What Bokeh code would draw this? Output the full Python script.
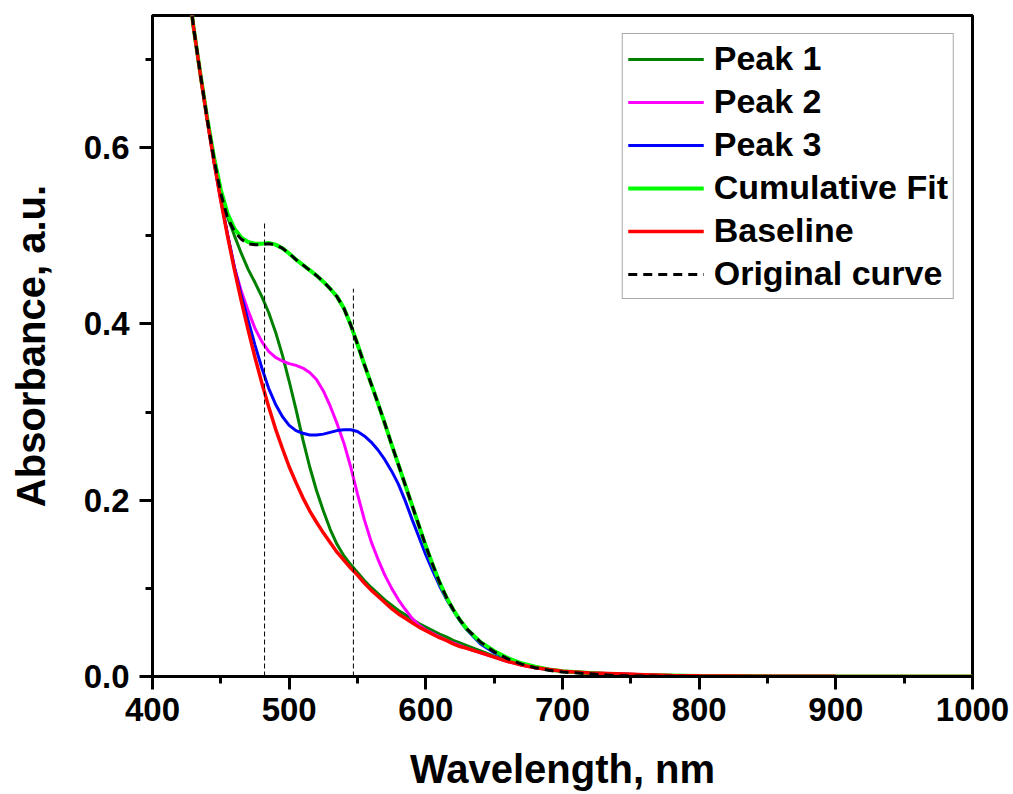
from bokeh.plotting import figure
from bokeh.models import (Range1d, SingleIntervalTicker, PrintfTickFormatter,
                          Legend, LegendItem, ColumnDataSource, LinearAxis,
                          FixedTicker)
from bokeh.embed import file_html
from bokeh.resources import INLINE

# ---------------- data ----------------
wavelength = [425, 430, 435, 440, 445, 450, 455, 460, 465, 470, 475, 480, 485, 490,
              495, 500, 505, 510, 515, 520, 525, 530, 535, 540, 545, 550, 555, 560,
              565, 570, 575, 580, 585, 590, 595, 600, 605, 610, 615, 620, 625, 630,
              640, 650, 660, 670, 680, 690, 700, 720, 740, 760, 780, 800, 850, 900,
              950, 1000]

baseline = [0.800, 0.737, 0.683, 0.632, 0.584, 0.540, 0.499, 0.461, 0.426, 0.393,
            0.362, 0.333, 0.306, 0.281, 0.259, 0.238, 0.220, 0.203, 0.188, 0.175,
            0.163, 0.152, 0.141, 0.132, 0.123, 0.115, 0.106, 0.098, 0.091, 0.084,
            0.077, 0.071, 0.066, 0.061, 0.056, 0.052, 0.048, 0.044, 0.041, 0.037,
            0.034, 0.032, 0.027, 0.022, 0.017, 0.013, 0.010, 0.008, 0.006, 0.004,
            0.003, 0.002, 0.001, 0.0008, 0.0004, 0.0002, 0.0001, 0.0]

cumulative_fit = [0.800, 0.737, 0.684, 0.634, 0.589, 0.552, 0.525, 0.508, 0.498, 0.493,
                  0.491, 0.491, 0.492, 0.490, 0.486, 0.480, 0.473, 0.467, 0.461, 0.455,
                  0.448, 0.440, 0.431, 0.418, 0.399, 0.377, 0.354, 0.332, 0.310, 0.287,
                  0.263, 0.240, 0.217, 0.194, 0.171, 0.148, 0.127, 0.107, 0.090, 0.076,
                  0.064, 0.054, 0.039, 0.029, 0.021, 0.015, 0.011, 0.008, 0.006, 0.004,
                  0.002, 0.001, 0.001, 0.0005, 0.0002, 0.0001, 0.0, 0.0]

original_curve = [0.800, 0.737, 0.684, 0.633, 0.587, 0.548, 0.520, 0.505, 0.496, 0.491,
                  0.490, 0.490, 0.491, 0.490, 0.486, 0.480, 0.473, 0.467, 0.461, 0.455,
                  0.448, 0.440, 0.431, 0.418, 0.399, 0.377, 0.354, 0.332, 0.310, 0.287,
                  0.263, 0.240, 0.217, 0.194, 0.171, 0.148, 0.127, 0.107, 0.090, 0.076,
                  0.064, 0.054, 0.039, 0.028, 0.020, 0.014, 0.010, 0.007, 0.005, 0.003,
                  0.001, 0.0005, 0.0002, 0.0, 0.0, 0.0, 0.0, 0.0]

peak_1 = [0.800, 0.737, 0.684, 0.633, 0.587, 0.545, 0.521, 0.500, 0.480, 0.462,
          0.447, 0.431, 0.413, 0.391, 0.365, 0.335, 0.303, 0.269, 0.238, 0.211,
          0.188, 0.167, 0.150, 0.137, 0.127, 0.118, 0.109, 0.101, 0.094, 0.087,
          0.081, 0.075, 0.070, 0.065, 0.060, 0.056, 0.052, 0.048, 0.045, 0.041,
          0.038, 0.035, 0.029, 0.023, 0.018, 0.014, 0.011, 0.008, 0.006, 0.004,
          0.003, 0.002, 0.001, 0.0008, 0.0004, 0.0002, 0.0001, 0.0]

peak_2 = [0.800, 0.737, 0.683, 0.632, 0.584, 0.541, 0.501, 0.464, 0.437, 0.415,
          0.395, 0.380, 0.369, 0.362, 0.358, 0.355, 0.353, 0.350, 0.345, 0.337,
          0.324, 0.307, 0.287, 0.265, 0.238, 0.207, 0.178, 0.153, 0.133, 0.115,
          0.100, 0.087, 0.076, 0.066, 0.058, 0.053, 0.049, 0.045, 0.041, 0.038,
          0.035, 0.032, 0.027, 0.022, 0.017, 0.013, 0.010, 0.008, 0.006, 0.004,
          0.003, 0.002, 0.001, 0.0008, 0.0004, 0.0002, 0.0001, 0.0]

peak_3 = [0.800, 0.737, 0.683, 0.632, 0.584, 0.541, 0.501, 0.464, 0.432, 0.404,
          0.376, 0.350, 0.327, 0.309, 0.295, 0.285, 0.279, 0.276, 0.274, 0.274,
          0.275, 0.277, 0.279, 0.280, 0.280, 0.278, 0.273, 0.266, 0.257, 0.246,
          0.233, 0.218, 0.199, 0.178, 0.158, 0.138, 0.120, 0.103, 0.088, 0.075,
          0.063, 0.053, 0.037, 0.027, 0.020, 0.014, 0.010, 0.008, 0.006, 0.004,
          0.002, 0.001, 0.001, 0.0005, 0.0002, 0.0001, 0.0, 0.0]

peak_marker_wavelength = [482, 547]
peak_marker_bottom = [0.0, 0.0]
peak_marker_top = [0.515, 0.44]

x_ticks_interval = 100
y_ticks_interval = 0.2

x_title = "Wavelength, nm"
y_title = "Absorbance, a.u."

# ---------------- figure ----------------
FONT = "Liberation Sans"

p = figure(width=1013, height=794, output_backend="svg", toolbar_location=None,
           x_range=Range1d(400, 1000), y_range=Range1d(0, 0.75),
           min_border_left=152, min_border_right=41, min_border_top=15,
           min_border_bottom=118)
p.grid.visible = False
p.background_fill_color = "white"
p.border_fill_color = "white"
p.outline_line_color = "black"
p.outline_line_width = 3
p.outline_line_alpha = 1.0

src = ColumnDataSource(dict(x=wavelength, base=baseline, cum=cumulative_fit,
                            orig=original_curve, p1=peak_1, p2=peak_2, p3=peak_3))

r_p1 = p.line("x", "p1", source=src, line_color="#008000", line_width=3)
r_p2 = p.line("x", "p2", source=src, line_color="#FF00FF", line_width=3)
r_p3 = p.line("x", "p3", source=src, line_color="#0000FF", line_width=3)
r_cum = p.line("x", "cum", source=src, line_color="#00FF00", line_width=4)
r_base = p.line("x", "base", source=src, line_color="#FF0000", line_width=3.5)
r_orig = p.line("x", "orig", source=src, line_color="black", line_width=3,
                line_dash="9 6")

p.segment(x0=peak_marker_wavelength, y0=peak_marker_bottom,
          x1=peak_marker_wavelength, y1=peak_marker_top,
          line_color="black", line_width=1, line_dash="5 3")

xaxis = p.xaxis[0]
yaxis = p.yaxis[0]

# axes
for ax in (xaxis, yaxis):
    ax.axis_line_width = 3
    ax.major_tick_line_width = 3
    ax.minor_tick_line_width = 3
    ax.major_tick_in = 0
    ax.major_tick_out = 13
    ax.minor_tick_in = 0
    ax.minor_tick_out = 7
    ax.major_label_text_font = FONT
    ax.major_label_text_font_style = "bold"
    ax.major_label_text_font_size = "33px"
    ax.major_label_text_color = "black"
    ax.axis_label_text_font = FONT
    ax.axis_label_text_font_style = "bold"
    ax.axis_label_text_font_size = "40px"
    ax.axis_label_text_color = "black"

xaxis.ticker = SingleIntervalTicker(interval=x_ticks_interval, num_minor_ticks=2)
yaxis.ticker = SingleIntervalTicker(interval=y_ticks_interval, num_minor_ticks=2)
yaxis.formatter = PrintfTickFormatter(format="%.1f")
xaxis.axis_label = x_title
xaxis.major_label_standoff = 8
yaxis.major_label_standoff = 10
xaxis.axis_label_standoff = 23

# y title carried by a tick-less outer axis, placed as in the reference
title_axis = LinearAxis(axis_label=y_title, bounds=(0.0374, 0.75),
                        ticker=FixedTicker(ticks=[]),
                        axis_line_color=None, major_tick_line_color=None,
                        minor_tick_line_color=None, major_tick_out=0,
                        minor_tick_out=0, major_tick_in=0, minor_tick_in=0,
                        major_label_text_font_size="0px",
                        axis_label_standoff=28,
                        axis_label_text_font=FONT,
                        axis_label_text_font_style="bold",
                        axis_label_text_font_size="40px",
                        axis_label_text_color="black")
p.add_layout(title_axis, "left")

legend = Legend(items=[
    LegendItem(label="Peak 1", renderers=[r_p1]),
    LegendItem(label="Peak 2", renderers=[r_p2]),
    LegendItem(label="Peak 3", renderers=[r_p3]),
    LegendItem(label="Cumulative Fit", renderers=[r_cum]),
    LegendItem(label="Baseline", renderers=[r_base]),
    LegendItem(label="Original curve", renderers=[r_orig]),
], location="top_right")
legend.margin = 18
legend.padding = 5
legend.spacing = 4
legend.glyph_width = 76
legend.glyph_height = 38
legend.label_height = 38
legend.label_standoff = 10
legend.label_text_font = FONT
legend.label_text_font_style = "bold"
legend.label_text_font_size = "34px"
legend.label_text_color = "black"
legend.border_line_color = "#555555"
legend.border_line_width = 1
legend.background_fill_color = "white"
legend.background_fill_alpha = 1.0
p.add_layout(legend)

open("out.html", "w").write(file_html(p, INLINE))
